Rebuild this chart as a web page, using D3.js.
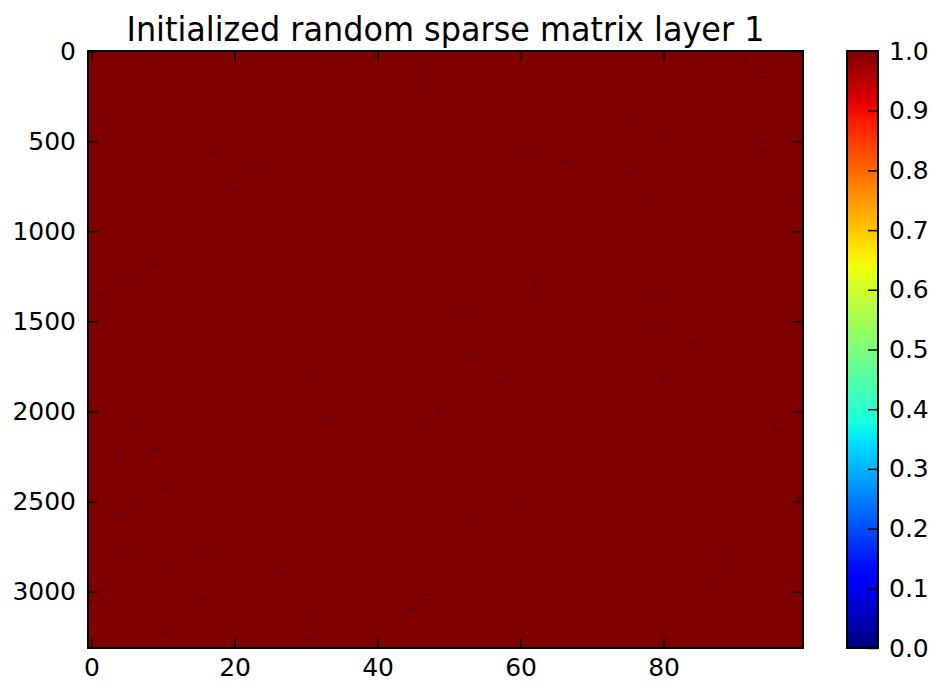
<!DOCTYPE html>
<html>
<head>
<meta charset="utf-8">
<script src="https://cdn.jsdelivr.net/npm/d3@7"></script>
<style>
  html, body { margin: 0; padding: 0; background: #ffffff; }
  svg text { font-family: "DejaVu Sans", sans-serif; fill: #000; }
</style>
</head>
<body>
<svg id="chart" width="933" height="684"></svg>
<script>
// ---- data ----
const titleText = "Initialized random sparse matrix layer 1";
const nRows = 3313;
const nCols = 100;
const fillValue = 1.0;            // value of every cell not listed below
// sparse cells that differ from fillValue
const sparseRows = [161, 250, 372, 567, 606, 778, 1190, 1306, 1355, 1460,
  1294, 1333, 1416, 1328, 1566, 1623, 1682, 1840, 1840, 2017, 2056,
  50, 55, 44, 144, 372, 450, 505, 550, 528, 606, 689, 800, 805,
  1828, 2028, 2083, 2205, 2217, 2261, 2433, 2500, 2561, 2800, 2750, 2856, 2911,
  3000, 3039, 3017, 3094, 3128, 3233, 3261, 3056,
  2111, 2478, 2511, 2611, 2806, 2861, 2956];
const sparseCols = [46, 23, 1, 17, 23, 20, 9, 5, 1, 1,
  62, 63, 52, 79, 79, 84, 53, 57, 80, 49, 46,
  83, 91, 97, 94, 76, 80, 94, 94, 61, 66, 75, 78, 97,
  31, 33, 6, 9, 4, 4, 10, 7, 4, 5, 16, 11, 27,
  2, 16, 47, 45, 31, 10, 30, 0,
  96, 99, 60, 53, 88, 89, 87];
const sparseValues = sparseRows.map(() => 0.0);
const xTicks = [0, 20, 40, 60, 80];
const yTicks = [0, 500, 1000, 1500, 2000, 2500, 3000];
const cbTicks = [0.0, 0.1, 0.2, 0.3, 0.4, 0.5, 0.6, 0.7, 0.8, 0.9, 1.0];

// ---- jet colormap (matplotlib segment data) ----
const jetR = [[0, 0], [0.35, 0], [0.66, 1], [0.89, 1], [1, 0.5]];
const jetG = [[0, 0], [0.125, 0], [0.375, 1], [0.64, 1], [0.91, 0], [1, 0]];
const jetB = [[0, 0.5], [0.11, 1], [0.34, 1], [0.65, 0], [1, 0]];
function seg(pts, t) {
  for (let i = 1; i < pts.length; i++) {
    if (t <= pts[i][0]) {
      const [x0, y0] = pts[i - 1], [x1, y1] = pts[i];
      return y0 + (y1 - y0) * (t - x0) / (x1 - x0);
    }
  }
  return pts[pts.length - 1][1];
}
function jet(t) {
  t = Math.max(0, Math.min(1, t));
  return d3.rgb(255 * seg(jetR, t), 255 * seg(jetG, t), 255 * seg(jetB, t)).formatHex();
}

// ---- layout ----
const svg = d3.select("#chart");
const L = 88, R = 803, T = 51, B = 648;
const cbL = 847, cbR = 878;

const x = d3.scaleLinear().domain([-0.5, nCols - 0.5]).range([L, R]);
const y = d3.scaleLinear().domain([-0.5, nRows - 0.5]).range([T, B]);
const c = d3.scaleLinear().domain([0, 1]).range([B, T]);

// matrix: fill value everywhere
svg.append("rect")
  .attr("x", x(-0.5)).attr("y", y(-0.5))
  .attr("width", x(nCols - 0.5) - x(-0.5))
  .attr("height", y(nRows - 0.5) - y(-0.5))
  .attr("fill", jet(fillValue));

// sparse cells
const cells = sparseRows.map((r, i) => ({ r, c: sparseCols[i], v: sparseValues[i] }));
const cellH = Math.max(1.2, y(1) - y(0));
svg.append("g").selectAll("rect").data(cells).join("rect")
  .attr("x", d => x(d.c - 0.5))
  .attr("y", d => y(d.r) - cellH / 2)
  .attr("width", x(1) - x(0))
  .attr("height", cellH)
  .attr("fill", d => jet(d.v))
  .attr("opacity", 0.38);

// axes
const fs = 25;
function styleAxis(g, labels) {
  g.select(".domain").remove();
  g.selectAll(".tick line").attr("stroke", "#000").attr("stroke-width", 1.5);
  g.selectAll(".tick text").attr("font-size", fs).attr("font-family", "DejaVu Sans").attr("fill", "#000");
  if (!labels) g.selectAll(".tick text").remove();
}
svg.append("g").attr("transform", `translate(0,${B})`)
  .call(d3.axisBottom(x).tickValues(xTicks).tickSize(-10).tickPadding(10).tickFormat(d3.format("d")))
  .call(g => styleAxis(g, true));
svg.append("g").attr("transform", `translate(0,${T})`)
  .call(d3.axisTop(x).tickValues(xTicks).tickSize(-10))
  .call(g => styleAxis(g, false));
svg.append("g").attr("transform", `translate(${L},0)`)
  .call(d3.axisLeft(y).tickValues(yTicks).tickSize(-10).tickPadding(12).tickFormat(d3.format("d")))
  .call(g => styleAxis(g, true));
svg.append("g").attr("transform", `translate(${R},0)`)
  .call(d3.axisRight(y).tickValues(yTicks).tickSize(-10))
  .call(g => styleAxis(g, false));

// frame
svg.append("rect").attr("x", L).attr("y", T).attr("width", R - L).attr("height", B - T)
  .attr("fill", "none").attr("stroke", "#000").attr("stroke-width", 2);

// colorbar
const defs = svg.append("defs");
const grad = defs.append("linearGradient").attr("id", "jetgrad")
  .attr("x1", 0).attr("y1", 1).attr("x2", 0).attr("y2", 0);
d3.range(0, 1.0001, 0.02).forEach(t => {
  grad.append("stop").attr("offset", t).attr("stop-color", jet(t));
});
svg.append("rect").attr("x", cbL).attr("y", T).attr("width", cbR - cbL).attr("height", B - T)
  .attr("fill", "url(#jetgrad)");
svg.append("g").attr("transform", `translate(${cbR},0)`)
  .call(d3.axisRight(c).tickValues(cbTicks).tickSize(-10).tickPadding(11).tickFormat(d3.format(".1f")))
  .call(g => styleAxis(g, true));
svg.append("rect").attr("x", cbL).attr("y", T).attr("width", cbR - cbL).attr("height", B - T)
  .attr("fill", "none").attr("stroke", "#000").attr("stroke-width", 2);

// title
svg.append("text")
  .attr("x", (L + R) / 2).attr("y", 41)
  .attr("text-anchor", "middle")
  .attr("font-size", 34)
  .attr("textLength", 638)
  .attr("lengthAdjust", "spacingAndGlyphs")
  .text(titleText);
</script>
</body>
</html>
